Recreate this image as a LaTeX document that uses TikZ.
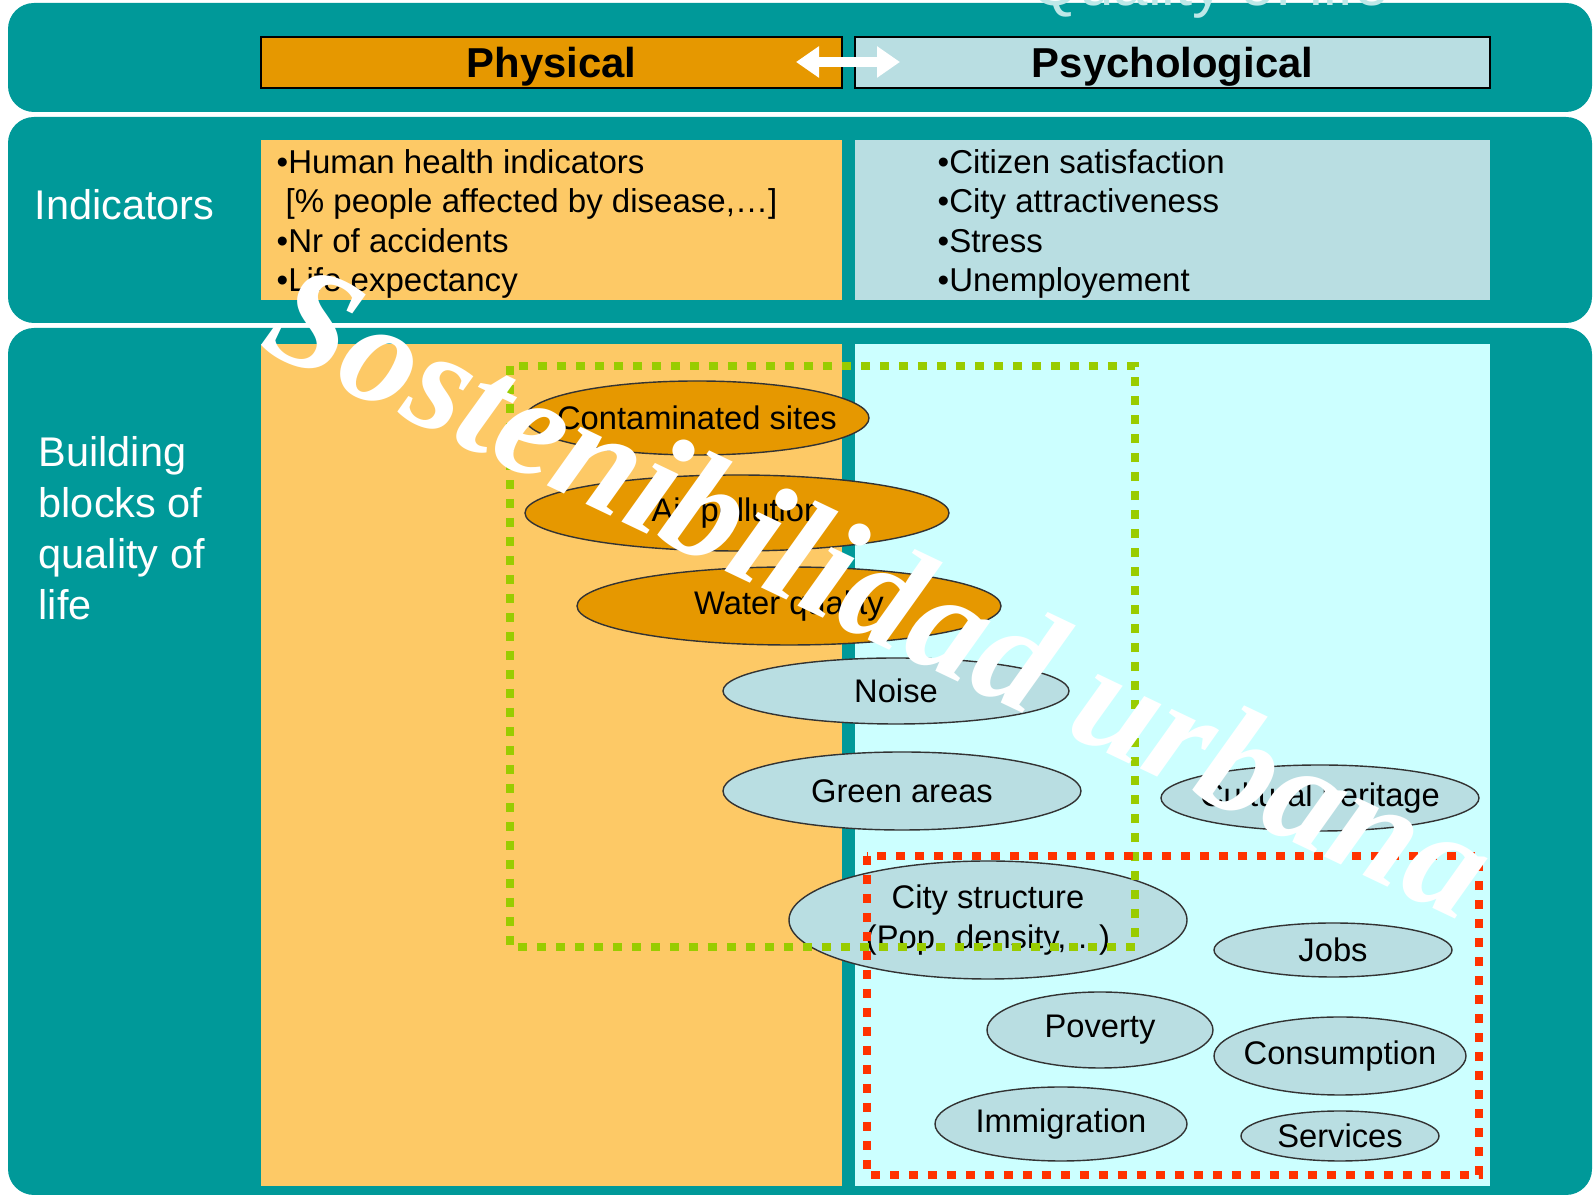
\documentclass[tikz,border=0pt]{standalone}
\usepackage{fontspec}
\setmainfont{Liberation Sans}
\newfontfamily\markfont{Liberation Serif}
\usetikzlibrary{arrows.meta,shapes.geometric}
\definecolor{bandteal}{RGB}{0,153,153}
\definecolor{physorange}{RGB}{230,152,0}
\definecolor{physlight}{RGB}{253,201,102}
\definecolor{psychblue}{RGB}{185,222,226}
\definecolor{psychcyan}{RGB}{204,255,255}
\definecolor{greendot}{RGB}{153,204,0}
\definecolor{reddot}{RGB}{255,51,0}
\definecolor{titleteal}{RGB}{190,232,232}
\tikzset{
  band/.style={
    fill=bandteal,
    rounded corners=2.6mm
  },
  headbox/.style={
    draw=black,
    line width=0.5pt,
    minimum height=5.1mm,
    inner sep=0pt,
    text depth=0pt,
    font=\fontsize{11.9}{14}\selectfont\bfseries
  },
  indlist/.style={
    align=left,
    anchor=west,
    inner sep=0pt,
    font=\fontsize{9.4}{11.2}\selectfont
  },
  sidelabel/.style={
    text=white,
    align=left,
    anchor=west,
    inner sep=0pt,
    font=\fontsize{11.8}{14.5}\selectfont
  },
  block/.style={
    ellipse,
    draw=black!80,
    line width=0.4pt,
    inner xsep=-30mm,
    inner ysep=-10mm,
    align=center,
    font=\fontsize{9.3}{11.2}\selectfont
  },
  physblock/.style={block,fill=physorange},
  psychblock/.style={block,fill=psychblue},
  dotframe/.style={
    line width=0.8mm,
    dash pattern=on 0.9mm off 1.0mm
  }
}

\begin{document}
\begin{tikzpicture}[x=0.1mm,y=-0.1mm]

  \useasboundingbox (0,0) rectangle (1594,1198);
  \clip (0,0) rectangle (1594,1198);

  % Teal bands behind the three rows.
  \fill[band] (8,3) rectangle (1592,112);
  \fill[band] (8,117) rectangle (1592,323);
  \fill[band] (8,328) rectangle (1592,1195);

  % Title, cut by the top edge.
  \node[text=titleteal,anchor=base,inner sep=0pt,
    font=\fontsize{17.6}{20}\selectfont] (title) at (1210,6) {Quality of life};

  % Column headers.
  \node[headbox,fill=physorange,minimum width=58.1mm] (physical)
    at (551.5,62.5) {Physical};
  \node[headbox,fill=psychblue,minimum width=63.5mm] (psychological)
    at (1172.5,62.5) {Psychological};

  \coordinate (arrowL) at (796,62);
  \coordinate (arrowR) at (900,62);
  \draw[white,line width=1mm,
    {Triangle[length=2.3mm,width=3.0mm]}-{Triangle[length=2.3mm,width=3.0mm]}]
    (arrowL) -- (arrowR);

  % Indicator row.
  \fill[physlight] (261,140) rectangle (842,300);
  \fill[psychblue] (855,140) rectangle (1490,300);

  \node[sidelabel] (indicators) at (34,205) {Indicators};

  \node[indlist] (physind) at (276,224)
    {•Human health indicators\\
     \hspace{0.9mm}[\% people affected by disease,…]\\
     •Nr of accidents\\
     •Life expectancy};
  \node[indlist] (psychind) at (937,224)
    {•Citizen satisfaction\\
     •City attractiveness\\
     •Stress\\
     •Unemployement};

  % Building blocks row.
  \fill[physlight] (261,344) rectangle (842,1186);
  \fill[psychcyan] (855,344) rectangle (1490,1186);

  \node[sidelabel] (blocks) at (38,528)
    {Building\\blocks of\\quality of\\life};

  \node[physblock,minimum width=34.4mm,minimum height=7.4mm] (contam)
    at (697,418) {Contaminated sites};
  \node[physblock,minimum width=42.4mm,minimum height=7.6mm] (air)
    at (737,513) {Air pollution};
  \node[physblock,minimum width=42.4mm,minimum height=7.8mm] (water)
    at (789,606) {Water quality};
  \node[psychblock,minimum width=34.6mm,minimum height=6.6mm] (noise)
    at (896,691) {Noise};
  \node[psychblock,minimum width=35.8mm,minimum height=7.8mm] (green)
    at (902,791) {Green areas};
  \node[psychblock,minimum width=31.8mm,minimum height=6.6mm] (heritage)
    at (1320,798) {Cultural heritage};
  \node[psychblock,minimum width=39.8mm,minimum height=11.8mm] (city)
    at (988,920) {City structure\\(Pop. density,…)};
  \node[psychblock,minimum width=23.8mm,minimum height=5.4mm] (jobs)
    at (1333,950) {Jobs};
  \node[psychblock,minimum width=22.6mm,minimum height=7.6mm] (poverty)
    at (1100,1030) {Poverty};
  \node[psychblock,minimum width=25.2mm,minimum height=7.8mm] (consumption)
    at (1340,1056) {Consumption};
  \node[psychblock,minimum width=25.2mm,minimum height=7.4mm] (immigration)
    at (1061,1124) {Immigration};
  \node[psychblock,minimum width=19.8mm,minimum height=5.0mm] (services)
    at (1340,1136) {Services};

  % Dotted groupings.
  \draw[dotframe,draw=greendot] (510,366) rectangle (1135,947);
  \draw[dotframe,draw=reddot] (867,856) rectangle (1479,1175);

  % Watermark over everything.
  \node[text=white,rotate=-25.5,inner sep=0pt,
    font=\markfont\fontsize{41.8}{42}\selectfont\bfseries\itshape]
    (watermark) at (881,590) {Sostenibilidad urbana};

\end{tikzpicture}
\end{document}
